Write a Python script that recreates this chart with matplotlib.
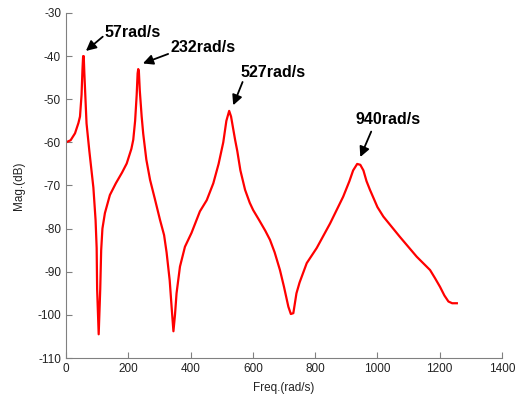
import matplotlib
matplotlib.use("Agg")
import matplotlib.pyplot as plt

plt.rcParams['font.family'] = ['Liberation Sans', 'DejaVu Sans']
plt.rcParams['axes.unicode_minus'] = False

# frequency response
freq = [0, 15, 29, 40, 45, 50, 53, 55, 57, 59, 62, 66, 75, 88, 95, 98.5, 100,
        105, 110, 113, 117, 125, 141, 160, 180, 195, 210, 216, 222, 227, 230,
        232, 234, 237, 243, 248, 258, 270, 285, 302, 315, 323, 333, 340, 345,
        350, 355, 366, 382, 403, 430, 452, 473, 490, 505, 515, 524, 530, 536,
        543, 550, 560, 575, 590, 601, 620, 640, 655, 670, 687, 700, 714, 722,
        730, 740, 750, 773, 805, 848, 890, 910, 922, 935, 945, 955, 965, 976,
        1000, 1019, 1072, 1126, 1169, 1185, 1201, 1215, 1228, 1240, 1255]
mag = [-60, -59.5, -57.9, -55.5, -54, -49, -43, -40, -40, -44, -49, -55.6,
       -62, -70.5, -78, -84.5, -94, -104.5, -94, -85, -80, -76.4, -72.2, -69.5,
       -67, -64.9, -61.5, -59.4, -55, -49, -44, -43, -43.5, -48, -54, -58, -64,
       -68.7, -73, -78, -81.5, -85.5, -92, -99, -103.8, -100, -95, -88.8,
       -84.2, -81, -76, -73.4, -69.5, -65, -60, -55, -52.7, -54, -56.5,
       -59.4, -62, -66.5, -71, -74, -75.7, -78, -80.5, -82.6, -85.5, -89.6,
       -93.5, -98.1, -99.8, -99.6, -95, -92.5, -88, -84.5, -78.8, -72.6, -69,
       -66.5, -65, -65.2, -66.5, -69, -71, -75, -77.2, -81.9, -86.5, -89.6,
       -91.5, -93.5, -95.5, -96.9, -97.3, -97.3]

peak_freq = [57, 232, 527, 940]
peak_mag = [-40, -43, -52.7, -65]
peak_labels = ['57rad/s', '232rad/s', '527rad/s', '940rad/s']

fig = plt.figure(figsize=(5.22, 3.97), dpi=100)
ax = fig.add_axes([0.1264, 0.0982, 0.8353, 0.8691])

ax.plot(freq, mag, color='#ff0000', linewidth=1.6)

ax.set_xlim(0, 1400)
ax.set_ylim(-110, -30)
ax.set_xticks(range(0, 1401, 200))
ax.set_yticks(range(-110, -29, 10))

for side in ['top', 'right']:
    ax.spines[side].set_visible(False)
for side in ['left', 'bottom']:
    ax.spines[side].set_color('#808080')
ax.tick_params(direction='in', length=4, color='#808080', labelsize=8.5,
               labelcolor='#222222')

ax.set_xlabel('Freq.(rad/s)', fontsize=8.5, color='#222222', labelpad=5)
ax.set_ylabel('Mag.(dB)', fontsize=8.5, color='#222222', labelpad=9)

# text anchor (left edge, middle) and arrow tail/tip, in data units
text_pos = [(125, -34.6), (334, -38.1), (559, -43.9), (928, -54.6)]
tails = [(118, -35.5), (328, -39.5), (567, -46.0), (980, -57.5)]
tips = [(64, -38.8), (247, -41.7), (537, -51.4), (945, -63.4)]

for lab, tp, tl, tip in zip(peak_labels, text_pos, tails, tips):
    ax.text(tp[0], tp[1], lab, fontsize=11.5, fontweight='bold',
            ha='left', va='center')
    ax.annotate('', xy=tip, xytext=tl,
                arrowprops=dict(arrowstyle='-|>', color='black', lw=1.3,
                                mutation_scale=15, shrinkA=0, shrinkB=0))

fig.savefig('out.png', dpi=100)
